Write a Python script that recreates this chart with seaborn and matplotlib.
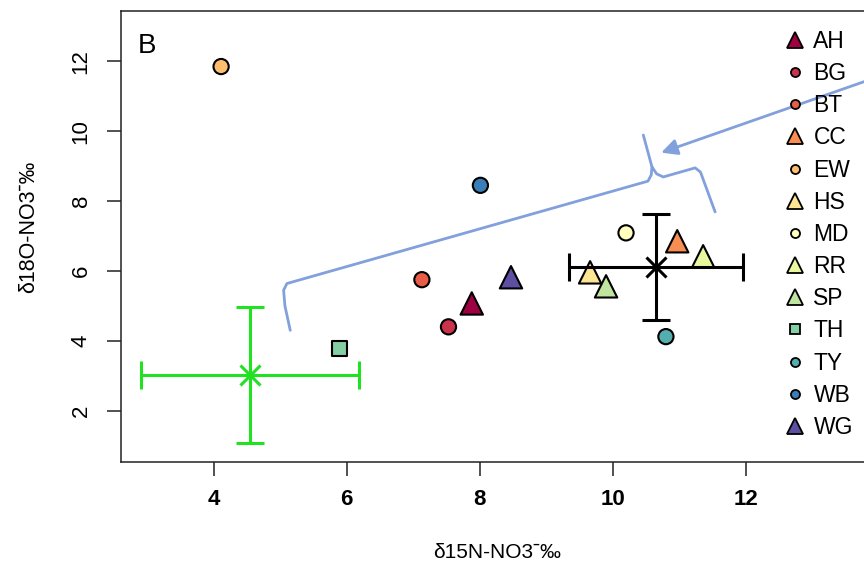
import numpy as np
import pandas as pd
import seaborn as sns
import matplotlib
import matplotlib.pyplot as plt
from matplotlib.lines import Line2D

# site values
sites = ["AH", "BG", "BT", "CC", "EW", "HS", "MD", "RR", "SP", "TH", "TY", "WB", "WG"]
d15n = [7.88, 7.53, 7.13, 10.97, 4.11, 9.66, 10.20, 11.36, 9.90, 5.89, 10.80, 8.01, 8.47]
d18o = [5.07, 4.40, 5.75, 6.85, 11.85, 5.96, 7.09, 6.42, 5.56, 3.78, 4.12, 8.45, 5.82]
shapes = ["^", "o", "o", "^", "o", "^", "o", "^", "^", "s", "o", "o", "^"]

# group means with +/- spread
group_x = [10.65, 4.55]
group_y = [6.12, 3.03]
group_xerr = [1.31, 1.64]
group_yerr = [1.52, 1.95]
group_col = ["black", "#22e022"]

# hand drawn blue annotation (brace + arrow), data units
brace_x = [5.15, 5.07, 5.05, 5.10, 10.53, 10.58, 10.59, 10.46]
brace_y = [4.30, 5.00, 5.45, 5.64, 8.57, 8.75, 8.98, 9.89]
brace2_x = [10.59, 10.66, 10.76, 11.24, 11.32, 11.54]
brace2_y = [8.98, 8.78, 8.69, 8.95, 8.83, 7.69]
arrow_tail = (14.1, 11.63)
arrow_head = (10.69, 9.36)

sns.set_style("ticks")
plt.rcParams["font.family"] = ["Liberation Sans", "DejaVu Sans"]
plt.rcParams["axes.linewidth"] = 1.1
plt.rcParams["axes.edgecolor"] = "#222222"
plt.rcParams["text.color"] = "black"
plt.rcParams["axes.labelcolor"] = "black"
plt.rcParams["xtick.color"] = "#222222"
plt.rcParams["ytick.color"] = "#222222"
plt.rcParams["xtick.labelcolor"] = "black"
plt.rcParams["ytick.labelcolor"] = "black"

df = pd.DataFrame({"site": sites, "x": d15n, "y": d18o})
spec = matplotlib.colormaps["Spectral"](np.linspace(0, 1, len(sites)))
pal = dict(zip(sites, [tuple(c) for c in spec]))
mk = dict(zip(sites, shapes))
size_map = {"^": 260, "o": 120, "s": 120}
sizes = {s: size_map[m] for s, m in zip(sites, shapes)}

fig = plt.figure(figsize=(8.64, 5.67), dpi=100)
ax = fig.add_axes([0.1397, 0.1857, 0.8719, 0.7949])

sns.scatterplot(data=df, x="x", y="y", hue="site", style="site", size="site",
                palette=pal, markers=mk, sizes=sizes, edgecolor="black",
                linewidth=1.5, legend=False, ax=ax, zorder=3)

for gx, gy, ex, ey, c in zip(group_x, group_y, group_xerr, group_yerr, group_col):
    ax.errorbar(gx, gy, xerr=ex, yerr=ey, fmt="x", color=c, ms=14, mew=2.2,
                elinewidth=2.2, capsize=10, capthick=2.2, zorder=4)

blue = "#82a0dc"
ax.plot(brace_x, brace_y, color=blue, lw=2, solid_capstyle="round", zorder=2)
ax.plot(brace2_x, brace2_y, color=blue, lw=2, solid_capstyle="round", zorder=2)
ax.annotate("", xy=arrow_head, xytext=arrow_tail, annotation_clip=False,
            arrowprops=dict(arrowstyle="-|>", color=blue, lw=2, mutation_scale=24))

ax.set_xlim(2.60, 13.93)
ax.set_ylim(0.54, 13.44)
ax.set_xticks([4, 6, 8, 10, 12])
ax.set_yticks([2, 4, 6, 8, 10, 12])
ax.spines["right"].set_visible(False)
ax.tick_params(axis="both", length=10, width=1.1, labelsize=16)
ax.tick_params(axis="x", pad=10)
ax.tick_params(axis="y", pad=11, labelrotation=90)
for lab in ax.get_xticklabels():
    lab.set_fontweight("bold")
for lab in ax.get_yticklabels():
    lab.set_va("center")

ax.set_xlabel("δ15N-NO3ˉ‰", fontsize=15)
ax.set_ylabel("δ18O-NO3ˉ‰", fontsize=15.5)
ax.xaxis.set_label_coords(0.5, -0.18)
ax.yaxis.set_label_coords(-0.1085, 0.521)

ax.text(0.023, 0.907, "B", transform=ax.transAxes, fontsize=20, va="baseline")

handles = []
for s, m in zip(sites, shapes):
    ms = 12 if m == "^" else (7 if m == "s" else 6.5)
    handles.append(Line2D([], [], marker=m, ls="none", markersize=ms,
                          markerfacecolor=pal[s], markeredgecolor="black",
                          markeredgewidth=1.3, label=s))
ax.legend(handles=handles, loc="upper left", bbox_to_anchor=(0.880, 0.958),
          frameon=False, fontsize=16.5, borderpad=0, borderaxespad=0,
          handlelength=1.0, handletextpad=0.3, labelspacing=0.4)

fig.savefig("out.png", dpi=100)
